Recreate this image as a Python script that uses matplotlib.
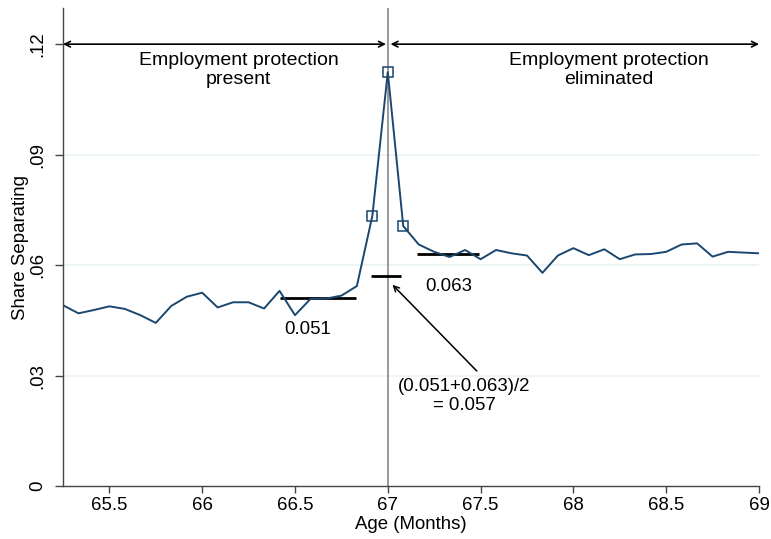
import numpy as np
import matplotlib
matplotlib.use('Agg')
import matplotlib.pyplot as plt

plt.rcParams['font.family'] = ['Liberation Sans', 'DejaVu Sans']

# monthly ages from 65.25 to 69
ages = np.arange(65.25, 69.0 + 1e-9, 1 / 12)
share = [0.0491, 0.0469, 0.0478, 0.0488, 0.0481, 0.0464, 0.0443, 0.0489,
         0.0514, 0.0525, 0.0485, 0.0499, 0.0499, 0.0482, 0.0530, 0.0464,
         0.0508, 0.0509, 0.0517, 0.0543, 0.0733, 0.1124, 0.0706, 0.0656,
         0.0636, 0.0622, 0.0641, 0.0616, 0.0641, 0.0632, 0.0626, 0.0579,
         0.0626, 0.0646, 0.0627, 0.0643, 0.0616, 0.0629, 0.0630, 0.0636,
         0.0656, 0.0659, 0.0623, 0.0636, 0.0634, 0.0632]
marked = [20, 21, 22]

before_mean = 0.051
after_mean = 0.063
mid_mean = 0.057

xticks = [65.5, 66, 66.5, 67, 67.5, 68, 68.5, 69]
yticks = [0, 0.03, 0.06, 0.09, 0.12]
ytick_labels = ['0', '.03', '.06', '.09', '.12']

navy = '#1a476f'
fig = plt.figure(figsize=(7.71, 5.39), dpi=100)
ax = fig.add_axes([0.0817, 0.0983, 0.9027, 0.8867])

for y in yticks[1:]:
    ax.axhline(y, color='#eaf2f3', lw=1.2, zorder=0)
ax.axvline(67, color='#888888', lw=1.2, zorder=1)

ax.plot(ages, share, color=navy, lw=1.4, zorder=3)
ax.plot(ages[marked], np.array(share)[marked], ls='none', marker='s',
        ms=6.5, mfc='none', mec=navy, mew=1.1, zorder=4)

ax.hlines(before_mean, 66.42, 66.83, color='black', lw=2, zorder=2)
ax.hlines(after_mean, 67.16, 67.49, color='black', lw=2, zorder=2)
ax.hlines(mid_mean, 66.91, 67.07, color='black', lw=2, zorder=2)

fs = 13.4
ax.text(66.57, 0.0424, '0.051', ha='center', va='center', fontsize=fs)
ax.text(67.33, 0.0543, '0.063', ha='center', va='center', fontsize=fs)
ax.annotate('', xy=(67.015, 0.0552), xytext=(67.49, 0.0307),
            arrowprops=dict(arrowstyle='->', color='black', lw=1.1))
ax.text(67.41, 0.0244, '(0.051+0.063)/2\n= 0.057', ha='center', va='center',
        fontsize=fs, linespacing=1.2)

# range arrows at top
ax.annotate('', xy=(65.25, 0.12), xytext=(66.99, 0.12),
            arrowprops=dict(arrowstyle='<->', color='black', lw=1.2,
                            shrinkA=0, shrinkB=0))
ax.annotate('', xy=(67.015, 0.12), xytext=(69.0, 0.12),
            arrowprops=dict(arrowstyle='<->', color='black', lw=1.2,
                            shrinkA=0, shrinkB=0))
ax.text(66.196, 0.1130, 'Employment protection\npresent', ha='center',
        va='center', fontsize=14, linespacing=1.15)
ax.text(68.19, 0.1130, 'Employment protection\neliminated', ha='center',
        va='center', fontsize=14, linespacing=1.15)

ax.set_xlim(65.25, 69.0)
ax.set_ylim(0, 0.1298)
ax.set_xticks(xticks)
ax.set_xticklabels([('%g' % t) for t in xticks], fontsize=fs)
ax.set_yticks(yticks)
ax.set_yticklabels(ytick_labels, fontsize=fs, rotation=90, va='center')
ax.tick_params(direction='out', length=5, width=1, color='#444444', pad=3)
ax.tick_params(axis='y', length=6, pad=6)
ax.set_xlabel('Age (Months)', fontsize=fs, labelpad=1)
ax.set_ylabel('Share Separating', fontsize=fs, labelpad=0)
for s in ['top', 'right']:
    ax.spines[s].set_visible(False)
for s in ['left', 'bottom']:
    ax.spines[s].set_color('#444444')
    ax.spines[s].set_linewidth(1)

fig.savefig('out.png', dpi=100)
